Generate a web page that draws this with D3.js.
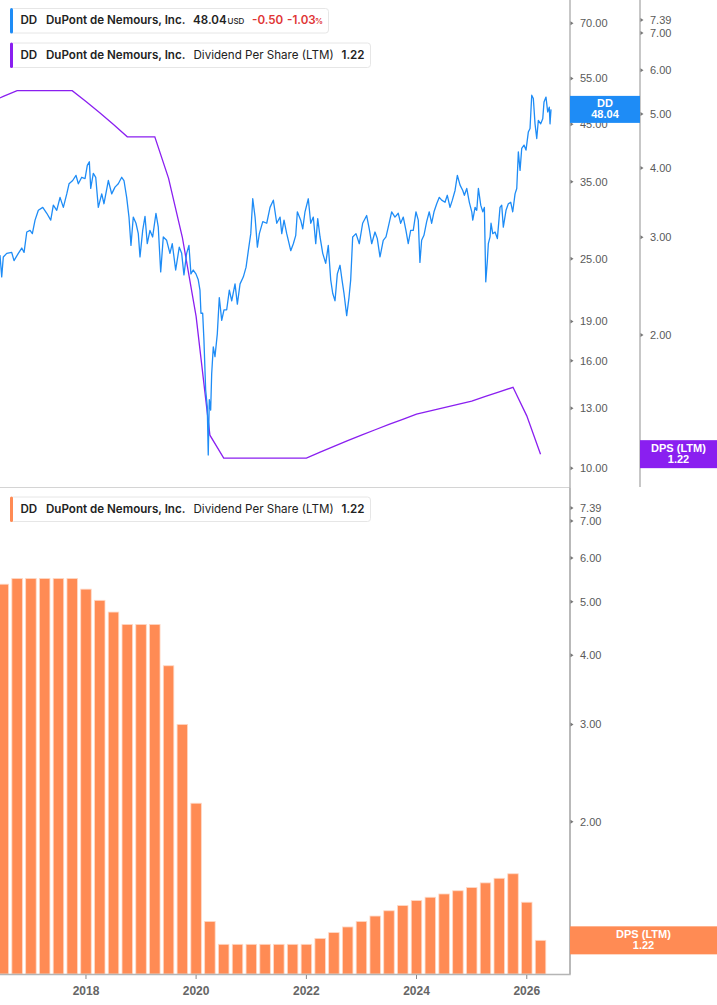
<!DOCTYPE html>
<html>
<head>
<meta charset="utf-8">
<script src="https://cdn.jsdelivr.net/npm/d3@7/dist/d3.min.js"></script>
<style>
  body { margin: 0; background: #fff; }
  svg { display: block; }
</style>
</head>
<body>
<div id="chart"></div>
<script>
// Dividend per share (LTM), quarter ends as decimal years
var dpsYears = [2016.25, 2016.5, 2016.75, 2017.0, 2017.25, 2017.5, 2017.75, 2018.0, 2018.25, 2018.5,
                2018.75, 2019.0, 2019.25, 2019.5, 2019.75, 2020.0, 2020.25, 2020.5, 2020.75, 2021.0,
                2021.25, 2021.5, 2021.75, 2022.0, 2022.25, 2022.5, 2022.75, 2023.0, 2023.25, 2023.5,
                2023.75, 2024.0, 2024.25, 2024.5, 2024.75, 2025.0, 2025.25, 2025.5, 2025.75, 2026.0,
                2026.25];
var dpsValues = [5.25, 5.38, 5.51, 5.51, 5.51, 5.51, 5.51, 5.27, 5.03, 4.79,
                 4.55, 4.55, 4.55, 3.83, 3.00, 2.16, 1.32, 1.20, 1.20, 1.20,
                 1.20, 1.20, 1.20, 1.20, 1.23, 1.26, 1.29, 1.32, 1.35, 1.38,
                 1.41, 1.44, 1.46, 1.48, 1.50, 1.52, 1.55, 1.58, 1.61, 1.43,
                 1.22];

// DD share price (USD)
var priceYears = [2016.440, 2016.471, 2016.500, 2016.562, 2016.652, 2016.694, 2016.772, 2016.834, 2016.876, 2016.925,
  2016.984, 2017.026, 2017.075, 2017.135, 2017.215, 2017.288, 2017.360, 2017.407, 2017.469, 2017.529,
  2017.589, 2017.651, 2017.692, 2017.759, 2017.819, 2017.861, 2017.923, 2017.983, 2018.024, 2018.061,
  2018.086, 2018.133, 2018.177, 2018.224, 2018.286, 2018.327, 2018.406, 2018.467, 2018.527, 2018.587,
  2018.649, 2018.690, 2018.739, 2018.781, 2018.817, 2018.859, 2018.908, 2018.950, 2018.981, 2019.030,
  2019.072, 2019.113, 2019.162, 2019.211, 2019.271, 2019.313, 2019.357, 2019.404, 2019.465, 2019.525,
  2019.567, 2019.629, 2019.694, 2019.738, 2019.779, 2019.828, 2019.870, 2019.906, 2019.948, 2019.997,
  2020.039, 2020.070, 2020.088, 2020.119, 2020.142, 2020.173, 2020.202, 2020.220, 2020.239, 2020.264,
  2020.282, 2020.311, 2020.342, 2020.384, 2020.420, 2020.464, 2020.505, 2020.554, 2020.602, 2020.645,
  2020.705, 2020.747, 2020.796, 2020.856, 2020.905, 2020.946, 2020.990, 2021.026, 2021.068, 2021.110,
  2021.146, 2021.208, 2021.280, 2021.340, 2021.400, 2021.462, 2021.522, 2021.553, 2021.594, 2021.643,
  2021.716, 2021.763, 2021.807, 2021.836, 2021.897, 2021.934, 2021.975, 2022.035, 2022.079, 2022.126,
  2022.170, 2022.206, 2022.248, 2022.297, 2022.351, 2022.398, 2022.442, 2022.478, 2022.520, 2022.562,
  2022.611, 2022.647, 2022.683, 2022.732, 2022.774, 2022.805, 2022.841, 2022.901, 2022.961, 2023.022,
  2023.095, 2023.142, 2023.186, 2023.246, 2023.288, 2023.337, 2023.396, 2023.446, 2023.487, 2023.549,
  2023.609, 2023.669, 2023.712, 2023.760, 2023.808, 2023.850, 2023.894, 2023.941, 2023.990, 2024.032,
  2024.062, 2024.093, 2024.135, 2024.184, 2024.231, 2024.275, 2024.317, 2024.366, 2024.413, 2024.456,
  2024.516, 2024.558, 2024.607, 2024.649, 2024.698, 2024.740, 2024.789, 2024.838, 2024.867, 2024.910,
  2024.957, 2025.001, 2025.019, 2025.061, 2025.092, 2025.121, 2025.164, 2025.201, 2025.230, 2025.255,
  2025.284, 2025.302, 2025.333, 2025.351, 2025.382, 2025.424, 2025.466, 2025.514, 2025.545, 2025.574,
  2025.623, 2025.665, 2025.709, 2025.745, 2025.787, 2025.818, 2025.847, 2025.878, 2025.908, 2025.950,
  2025.986, 2026.028, 2026.059, 2026.090, 2026.119, 2026.150, 2026.181, 2026.210, 2026.253, 2026.290,
  2026.313, 2026.349, 2026.380, 2026.409, 2026.422, 2026.440];
var priceValues = [25.4, 23.1, 25.2, 25.6, 25.7, 24.8, 25.6, 26.2, 25.7, 28.1,
  28.3, 27.9, 29.6, 30.9, 31.3, 30.5, 29.6, 31.6, 30.9, 32.7,
  31.3, 33.2, 34.7, 35.2, 36.0, 34.7, 35.7, 35.5, 37.6, 38.2,
  34.0, 36.3, 35.7, 31.3, 33.2, 31.8, 35.2, 33.2, 34.2, 34.7,
  35.7, 35.2, 32.7, 30.0, 26.5, 30.0, 29.2, 27.9, 25.2, 28.3,
  30.1, 26.7, 28.3, 27.5, 30.5, 28.7, 23.6, 27.5, 27.1, 25.6,
  26.7, 23.8, 26.3, 25.6, 23.3, 25.6, 26.5, 23.4, 23.8, 23.4,
  22.8, 21.8, 19.7, 19.7, 17.5, 14.1, 13.1, 10.6, 13.5, 12.9,
  15.1, 17.0, 16.3, 18.0, 21.1, 19.1, 20.0, 20.0, 21.8, 20.8,
  22.4, 20.5, 22.4, 23.1, 24.1, 25.9, 27.9, 32.5, 30.0, 26.3,
  27.9, 29.4, 29.2, 31.3, 32.3, 29.2, 30.0, 27.9, 29.6, 27.9,
  25.9, 26.7, 27.7, 30.7, 29.6, 28.5, 30.7, 32.5, 29.2, 30.0,
  26.7, 29.8, 27.5, 25.6, 24.5, 26.5, 22.8, 21.5, 20.8, 23.4,
  24.3, 22.8, 21.5, 19.5, 21.1, 22.8, 27.5, 27.9, 26.7, 29.2,
  30.2, 28.5, 26.7, 28.1, 27.3, 25.2, 27.1, 27.5, 28.7, 30.7,
  30.0, 30.5, 29.2, 30.0, 28.3, 26.7, 28.3, 28.3, 30.7, 29.6,
  24.6, 27.1, 27.7, 29.4, 30.7, 29.2, 30.7, 31.8, 32.7, 32.3,
  32.0, 33.0, 31.3, 32.3, 33.7, 36.0, 34.5, 33.7, 33.0, 34.0,
  32.0, 30.7, 29.6, 31.3, 30.9, 34.0, 31.6, 30.7, 31.3, 22.6,
  24.8, 26.7, 27.5, 29.2, 27.9, 28.1, 27.3, 31.3, 31.6, 28.7,
  30.9, 31.8, 32.0, 30.7, 33.2, 34.0, 39.9, 36.8, 40.5, 41.1,
  40.2, 43.5, 44.2, 51.1, 50.4, 45.1, 42.3, 45.8, 45.1, 46.1,
  49.6, 50.7, 47.5, 48.5, 45.1, 48.04];

var priceTicks = [10, 13, 16, 19, 25, 35, 45, 55, 70];
var dpsTicks = [2, 3, 4, 5, 6, 7, 7.39];
var yearTicks = [2018, 2020, 2022, 2024, 2026];

var lastPrice = 48.04, lastDps = 1.22;

// Colours
var blue = "#1e8cf6", purple = "#8a1ff0", orange = "#ff8b54";

var width = 717, height = 1005;
var plotRight = 570;

function yearToDate(t) {
    var y = Math.floor(t);
    var s = new Date(y, 0, 1), e = new Date(y + 1, 0, 1);
    return new Date(+s + (t - y) * (e - s));
}

var svg = d3.select("#chart").append("svg")
    .attr("width", width).attr("height", height)
    .style("font-family", "'Liberation Sans', Arial, sans-serif");

// Scales
var xScale = d3.scaleTime()
    .domain([yearToDate(2016.44), yearToDate(2026.785)])
    .range([0, plotRight]);

var priceScale = d3.scaleLog().domain([10, 70]).range([468.3, 23.3]);
var dpsTopScale = d3.scaleLog().domain([2, 7]).range([335, 33]);
var dpsBottomScale = d3.scaleLog().domain([2, 7]).range([821.7, 521]);

var priceData = priceYears.map(function(t, i) { return {date: yearToDate(t), v: priceValues[i]}; });
var dpsData = dpsYears.map(function(t, i) { return {date: yearToDate(t), v: dpsValues[i]}; });

// Clip paths for both panels
var defs = svg.append("defs");
defs.append("clipPath").attr("id", "clipTop")
    .append("rect").attr("x", 0).attr("y", 0).attr("width", plotRight).attr("height", 487);
defs.append("clipPath").attr("id", "clipBottom")
    .append("rect").attr("x", 0).attr("y", 488).attr("width", plotRight).attr("height", 486);

/******** TOP PANEL ************/
var topPanel = svg.append("g").attr("clip-path", "url(#clipTop)");

topPanel.append("path")
    .datum(dpsData)
    .attr("fill", "none")
    .attr("stroke", purple)
    .attr("stroke-width", 1.3)
    .attr("d", d3.line()
        .x(function(d) { return xScale(d.date); })
        .y(function(d) { return dpsTopScale(d.v); }));

topPanel.append("path")
    .datum(priceData)
    .attr("fill", "none")
    .attr("stroke", blue)
    .attr("stroke-width", 1.3)
    .attr("stroke-linejoin", "round")
    .attr("d", d3.line()
        .x(function(d) { return xScale(d.date); })
        .y(function(d) { return priceScale(d.v); }));

// Panel separator
svg.append("line")
    .attr("x1", 0).attr("x2", plotRight)
    .attr("y1", 487.5).attr("y2", 487.5)
    .attr("stroke", "#d4d4d4").attr("stroke-width", 1);

/******** BOTTOM PANEL ************/
var bottomPanel = svg.append("g").attr("clip-path", "url(#clipBottom)");
var barW = 10.5, baseY = 974;

bottomPanel.selectAll("rect.bar")
    .data(dpsData)
    .enter()
    .append("rect")
    .attr("class", "bar")
    .attr("x", function(d) { return xScale(d.date) - barW / 2; })
    .attr("y", function(d) { return dpsBottomScale(d.v); })
    .attr("width", barW)
    .attr("height", function(d) { return baseY - dpsBottomScale(d.v); })
    .attr("fill", orange)
    .attr("stroke", "#ffd9c6")
    .attr("stroke-width", 0.8);

/******** AXES ************/
var axisColor = "#b5b5b5", tickText = "#5a5a5a";

function rightTicks(scale, ticks, x, y0, y1) {
    svg.append("line")
        .attr("x1", x).attr("x2", x).attr("y1", y0).attr("y2", y1)
        .attr("stroke", axisColor).attr("stroke-width", 1.5);
    var g = svg.append("g");
    g.selectAll("path")
        .data(ticks).enter().append("path")
        .attr("d", function(d) { var y = scale(d); return "M" + (x + 0.5) + "," + (y - 2) + "L" + (x + 3.5) + "," + y + "L" + (x + 0.5) + "," + (y + 2) + "Z"; })
        .attr("fill", "#777");
    g.selectAll("text")
        .data(ticks).enter().append("text")
        .attr("x", x + 10)
        .attr("y", function(d) { return scale(d); })
        .attr("dy", "0.35em")
        .attr("font-size", "11px")
        .attr("fill", tickText)
        .text(function(d) { return d3.format(".2f")(d); });
}

rightTicks(priceScale, priceTicks, plotRight, 0, 974);
rightTicks(dpsTopScale, dpsTicks, 640, 0, 487);
rightTicks(dpsBottomScale, dpsTicks, plotRight, 488, 974);

// Bottom time axis
svg.append("line")
    .attr("x1", 0).attr("x2", plotRight + 0.75).attr("y1", baseY + 0.5).attr("y2", baseY + 0.5)
    .attr("stroke", axisColor).attr("stroke-width", 1.5);

var xg = svg.append("g");
xg.selectAll("line")
    .data(yearTicks).enter().append("line")
    .attr("x1", function(d) { return xScale(yearToDate(d)); })
    .attr("x2", function(d) { return xScale(yearToDate(d)); })
    .attr("y1", baseY + 1).attr("y2", baseY + 5)
    .attr("stroke", "#888").attr("stroke-width", 1);
xg.selectAll("text")
    .data(yearTicks).enter().append("text")
    .attr("x", function(d) { return xScale(yearToDate(d)); })
    .attr("y", 995)
    .attr("text-anchor", "middle")
    .attr("font-size", "12px")
    .attr("font-weight", "bold")
    .attr("fill", "#666")
    .text(function(d) { return d; });

/******** LAST VALUE TAGS ************/
function valueTag(x, w, yc, h, color, lines) {
    svg.append("rect")
        .attr("x", x).attr("y", yc - h / 2).attr("width", w).attr("height", h)
        .attr("fill", color);
    svg.append("text")
        .attr("x", x + w / 2).attr("y", yc - 2.5)
        .attr("text-anchor", "middle").attr("font-size", "11px").attr("font-weight", "bold")
        .attr("fill", "#fff").text(lines[0]);
    svg.append("text")
        .attr("x", x + w / 2).attr("y", yc + 9)
        .attr("text-anchor", "middle").attr("font-size", "11px").attr("font-weight", "bold")
        .attr("fill", "#fff").text(lines[1]);
}

valueTag(plotRight, 70, priceScale(lastPrice), 27, blue, ["DD", d3.format(".2f")(lastPrice)]);
valueTag(640, 77, dpsTopScale(lastDps), 28, purple, ["DPS (LTM)", d3.format(".2f")(lastDps)]);
valueTag(plotRight, 147, dpsBottomScale(lastDps), 28, orange, ["DPS (LTM)", d3.format(".2f")(lastDps)]);

/******** LEGENDS ************/
function legend(y, w, color, parts) {
    var g = svg.append("g").style("font-family", "Inter, 'Noto Sans', sans-serif");
    g.append("rect")
        .attr("x", 10.5).attr("y", y + 0.5).attr("width", w).attr("height", 24.5).attr("rx", 3)
        .attr("fill", "#fff").attr("stroke", "#e6e6e6");
    g.append("rect")
        .attr("x", 10).attr("y", y).attr("width", 3).attr("height", 25.5).attr("rx", 1.5)
        .attr("fill", color);
    parts.forEach(function(p) {
        g.append("text")
            .attr("x", p.x).attr("y", y + 16)
            .attr("font-size", p.size || "11.6px")
            .attr("font-weight", p.weight || 600)
            .attr("fill", p.color || "#222")
            .text(p.text);
    });
}

var red = "#e03535";
legend(8, 318, blue, [
    {x: 20.5, text: "DD"},
    {x: 46, text: "DuPont de Nemours, Inc."},
    {x: 193, text: d3.format(".2f")(lastPrice)},
    {x: 227.5, text: "USD", size: "8px", weight: 500},
    {x: 252, text: "-0.50", color: red},
    {x: 287, text: "-1.03", color: red},
    {x: 315, text: "%", size: "8px", color: red}
]);
legend(42.5, 360, purple, [
    {x: 20.5, text: "DD"},
    {x: 46, text: "DuPont de Nemours, Inc."},
    {x: 193.5, text: "Dividend Per Share (LTM)", weight: 400},
    {x: 341.5, text: d3.format(".2f")(lastDps)}
]);
legend(496.5, 360, orange, [
    {x: 20.5, text: "DD"},
    {x: 46, text: "DuPont de Nemours, Inc."},
    {x: 193.5, text: "Dividend Per Share (LTM)", weight: 400},
    {x: 341.5, text: d3.format(".2f")(lastDps)}
]);
</script>
</body>
</html>
